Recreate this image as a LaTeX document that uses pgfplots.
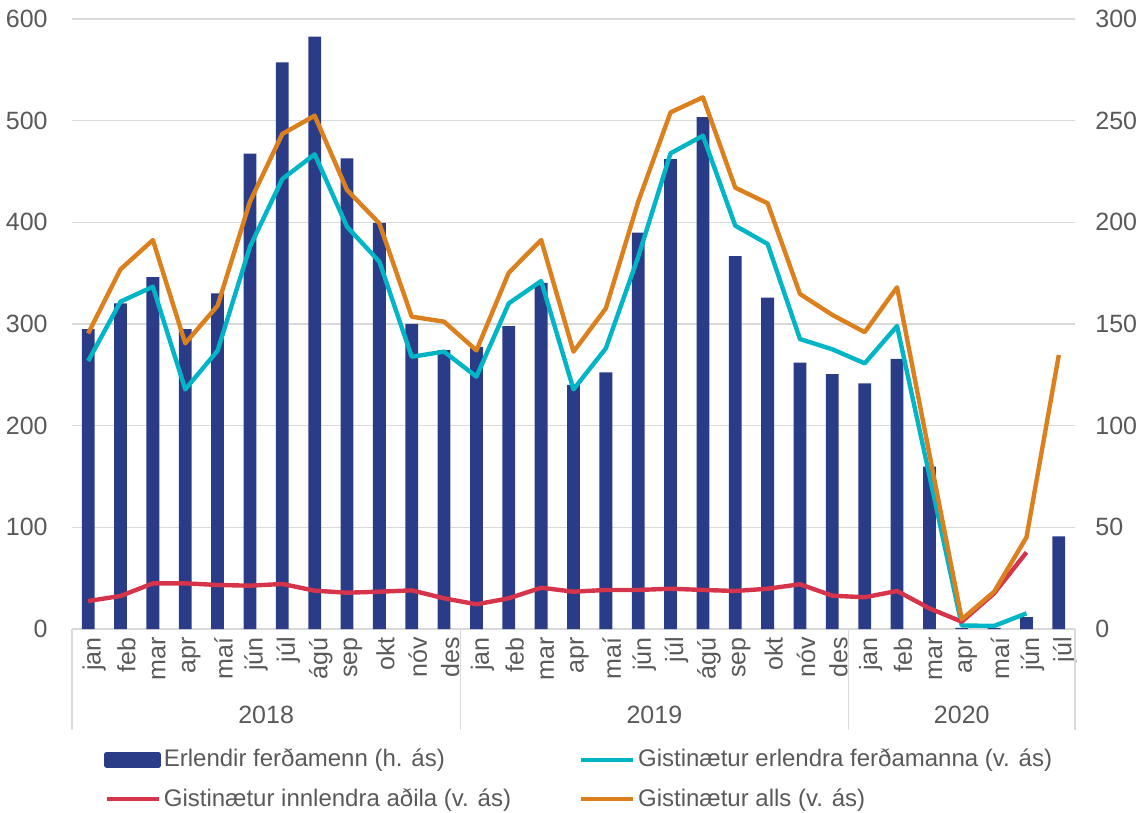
\documentclass[border=0pt]{standalone}
\usepackage{fontspec}
\setmainfont{Liberation Sans}
\usepackage{pgfplots}
\pgfplotsset{compat=1.18}
\definecolor{barblue}{RGB}{42,60,135}
\definecolor{lcyan}{RGB}{0,181,198}
\definecolor{lred}{RGB}{213,52,75}
\definecolor{lorange}{RGB}{220,128,30}
\definecolor{gridgray}{RGB}{217,217,217}
\definecolor{txtgray}{RGB}{89,89,89}
\begin{document}
\fontsize{12bp}{14bp}\selectfont
\begin{tikzpicture}
\pgfplotsset{
  base/.style={
    scale only axis, width=501.5bp, height=305bp,
    xmin=-0.5, xmax=30.5,
    /pgf/number format/assume math mode=true,
    tick label style={font=\fontsize{12.5bp}{14bp}\selectfont, text=txtgray},
    major tick length=0pt,
    clip=false,
  }
}
\begin{axis}[base, name=ax,
  ymin=0, ymax=300, ytick={0,50,...,300},
  axis y line*=right, axis x line*=bottom,
  y axis line style={draw=none},
  x axis line style={gridgray, line width=0.75bp},
  ymajorgrids, grid style={gridgray, line width=0.75bp},
  yticklabel style={anchor=west, xshift=6bp},
  xtick={0,...,30},
  xticklabels={jan,feb,mar,apr,maí,jún,júl,ágú,sep,okt,nóv,des,jan,feb,mar,apr,maí,jún,júl,ágú,sep,okt,nóv,des,jan,feb,mar,apr,maí,jún,júl},
  xticklabel style={rotate=90, anchor=east, yshift=-3bp},
  ybar, bar width=6.4bp,
]
\addplot[fill=barblue, draw=none] coordinates {
(0,147.5)(1,160.2)(2,173)(3,147.5)(4,165.1)(5,233.8)(6,278.7)(7,291.3)(8,231.5)(9,199.7)(10,150)(11,137.2)
(12,138.8)(13,149)(14,170.2)(15,120)(16,126.2)(17,194.9)(18,231.1)(19,251.8)(20,183.4)(21,163)(22,131)(23,125.3)
(24,120.8)(25,132.8)(26,79.8)(27,0.6)(28,0.6)(29,5.9)(30,45.6)};
\draw[gridgray, line width=0.75bp] (axis cs:-0.5,0) -- ([yshift=-50.5bp]axis cs:-0.5,0);
\draw[gridgray, line width=0.75bp] (axis cs:11.5,0) -- ([yshift=-50.5bp]axis cs:11.5,0);
\draw[gridgray, line width=0.75bp] (axis cs:23.5,0) -- ([yshift=-50.5bp]axis cs:23.5,0);
\draw[gridgray, line width=0.75bp] (axis cs:30.5,0) -- ([yshift=-50.5bp]axis cs:30.5,0);
\node[text=txtgray, font=\fontsize{12.5bp}{14bp}\selectfont] at (axis cs:5.5,0) [yshift=-43bp] {2018};
\node[text=txtgray, font=\fontsize{12.5bp}{14bp}\selectfont] at (axis cs:17.5,0) [yshift=-43bp] {2019};
\node[text=txtgray, font=\fontsize{12.5bp}{14bp}\selectfont] at (axis cs:27,0) [yshift=-43bp] {2020};
\end{axis}
\begin{axis}[base,
  ymin=0, ymax=600, ytick={0,100,...,600},
  axis y line*=left, axis x line=none,
  y axis line style={draw=none},
  yticklabel style={anchor=east, xshift=-8bp},
  every axis plot/.append style={line width=2.2bp, line join=round, mark=none},
  legend columns=2,
  legend style={draw=none, fill=none, at={(0.026,-0.185)}, anchor=north west,
    font=\fontsize{12bp}{14bp}\selectfont, text=txtgray,
    nodes={inner sep=1.5bp},
    /tikz/every even column/.append style={column sep=32.5bp},
    row sep=6bp},
  legend cell align=left,
]
\addlegendimage{legend image code/.code={\fill[barblue] (0bp,-2.75bp) rectangle (26bp,2.75bp);}}
\addlegendentry{Erlendir ferðamenn (h. ás)}
\addplot[lcyan, legend image code/.code={\draw[lcyan, line width=2bp] (0bp,0bp) -- (26bp,0bp);}] coordinates {
(0,263.6)(1,322)(2,336.7)(3,235.7)(4,273.8)(5,376)(6,442.6)(7,466.9)(8,395.7)(9,361.3)(10,267.8)(11,272.8)
(12,248.2)(13,320.3)(14,342.3)(15,235.7)(16,276.1)(17,366)(18,467.9)(19,485.2)(20,396.7)(21,378.7)(22,285.2)(23,275.1)
(24,261.3)(25,298)(26,151)(27,3.5)(28,3)(29,15.4)};
\addlegendentry{Gistinætur erlendra ferðamanna (v. ás)}
\addplot[lred, legend image code/.code={\draw[lred, line width=2bp] (0bp,0bp) -- (26bp,0bp);}] coordinates {
(0,27.5)(1,32.5)(2,44.9)(3,44.9)(4,43.3)(5,42.6)(6,44.3)(7,37.7)(8,35.7)(9,36.7)(10,38)(11,30.2)
(12,24.3)(13,30.2)(14,40.6)(15,36.7)(16,38.4)(17,38.4)(18,39.6)(19,38.4)(20,37.4)(21,39.6)(22,44)(23,32.8)
(24,31.2)(25,37.4)(26,20.3)(27,7.2)(28,35.1)(29,75.4)};
\addlegendentry{Gistinætur innlendra aðila (v. ás)}
\addplot[lorange, legend image code/.code={\draw[lorange, line width=2bp] (0bp,0bp) -- (26bp,0bp);}] coordinates {
(0,290.8)(1,353.8)(2,382.6)(3,281)(4,318)(5,420.3)(6,486.9)(7,504.9)(8,431.8)(9,399)(10,307.2)(11,302.3)
(12,274)(13,350.5)(14,382.6)(15,272.8)(16,315.4)(17,420.3)(18,508.2)(19,523)(20,434.1)(21,418.7)(22,329.5)(23,308.9)
(24,292)(25,336.1)(26,172)(27,9.5)(28,36.7)(29,90.2)(30,269.5)};
\addlegendentry{Gistinætur alls (v. ás)}
\end{axis}
\pgfresetboundingbox
\path[use as bounding box] ([shift={(-36bp,-92bp)}]ax.south west) rectangle ([shift={(32.5bp,9.5bp)}]ax.north east);
\end{tikzpicture}
\end{document}
